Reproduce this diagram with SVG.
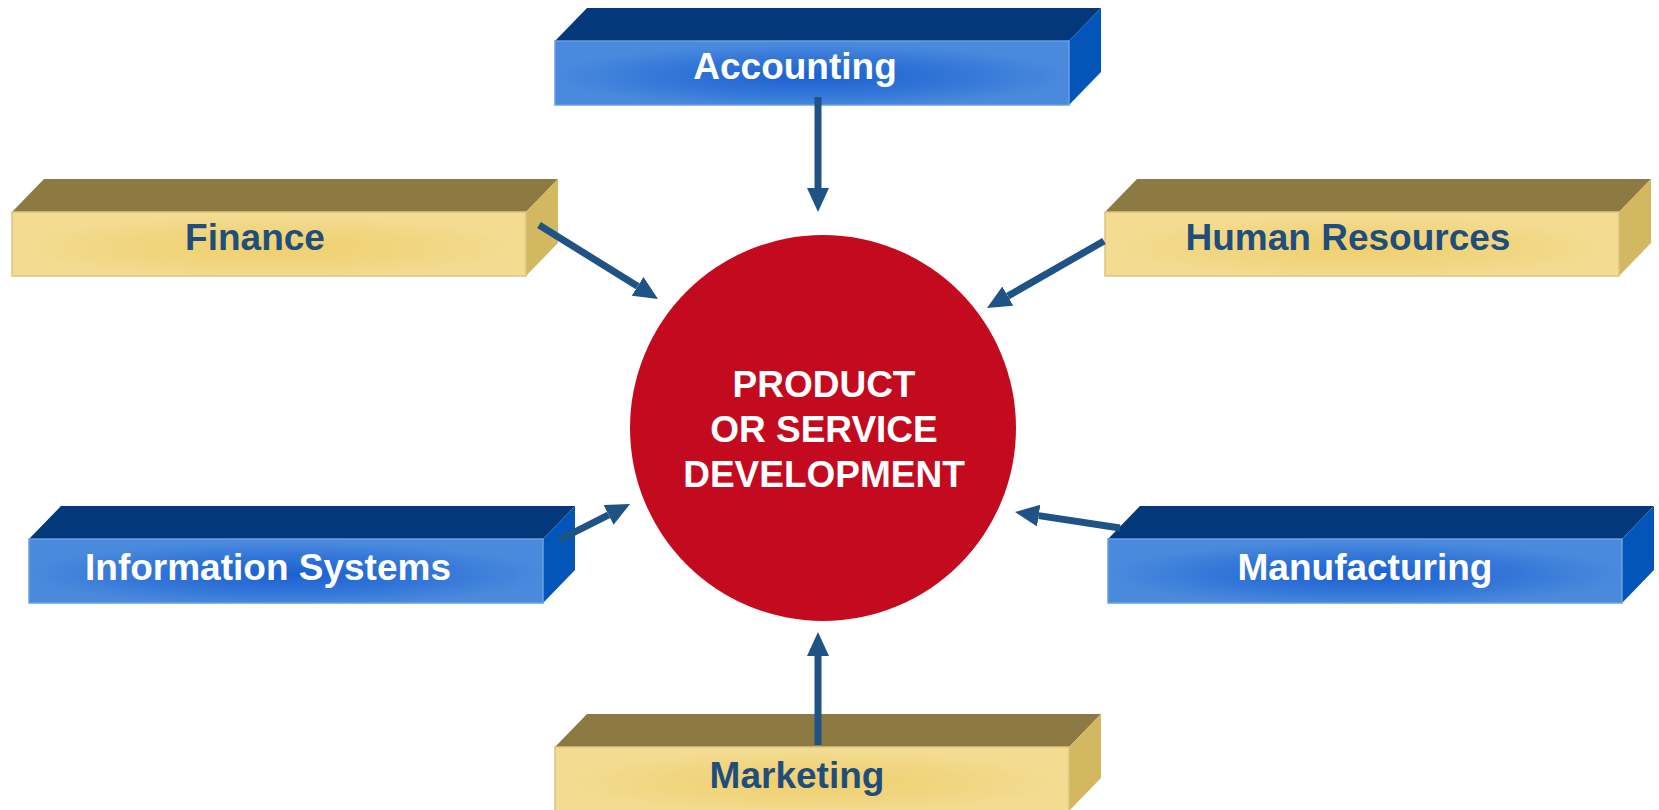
<svg xmlns="http://www.w3.org/2000/svg" width="1659" height="810" viewBox="0 0 1659 810">
  <style>
    .gold-top { fill: #8C7A42; }
    .gold-side { fill: #D3B862; }
    .gold-front { fill: url(#goldFace); stroke: #DCC57E; stroke-width: 1.5; }
    .blue-top { fill: #03397B; }
    .blue-side { fill: #0455B9; }
    .blue-front { fill: url(#blueFace); stroke: #6A9FE2; stroke-width: 1.5; }
    .label { font-family: "Liberation Sans", Arial, sans-serif; font-weight: bold; font-size: 37px; text-anchor: middle; }
    .label-dark { fill: #1F4E7C; }
    .label-light { fill: #FFFFFF; }
    .core-text { font-family: "Liberation Sans", Arial, sans-serif; font-weight: bold; font-size: 37px; text-anchor: middle; fill: #FFFFFF; }
    .flow { stroke: #1F5385; stroke-width: 7; fill: none; marker-end: url(#head); }
  </style>
  <defs>
    <radialGradient id="goldFace" cx="0.5" cy="0.55" r="0.5">
      <stop offset="0" stop-color="#F0CF6C"/>
      <stop offset="0.6" stop-color="#F1D682"/>
      <stop offset="1" stop-color="#F3DC92"/>
    </radialGradient>
    <radialGradient id="blueFace" cx="0.5" cy="0.55" r="0.5">
      <stop offset="0" stop-color="#1A60D2"/>
      <stop offset="0.6" stop-color="#3577D8"/>
      <stop offset="1" stop-color="#4A8ADD"/>
    </radialGradient>
    <marker id="head" markerUnits="userSpaceOnUse" markerWidth="26" markerHeight="24" refX="0" refY="11" orient="auto">
      <path d="M0,0 L24,11 L0,22 Z" fill="#1F5385"/>
    </marker>
    <!-- 3D bar: top face, right side, front face (origin = front-left x, back-top y) -->
    <g id="goldBar">
      <polygon class="gold-top" points="0,33 32,0 546,0 514,33"/>
      <polygon class="gold-side" points="514,33 546,0 546,64 514,97"/>
      <rect class="gold-front" x="0" y="33" width="514" height="64"/>
    </g>
    <g id="blueBar">
      <polygon class="blue-top" points="0,33 32,0 546,0 514,33"/>
      <polygon class="blue-side" points="514,33 546,0 546,64 514,97"/>
      <rect class="blue-front" x="0" y="33" width="514" height="64"/>
    </g>
  </defs>

  <rect width="1659" height="810" fill="#FFFFFF"/>

  <g id="core">
    <circle cx="823" cy="428" r="193" fill="#C40A1E"/>
    <text class="core-text" x="824" y="397">PRODUCT</text>
    <text class="core-text" x="824" y="442">OR SERVICE</text>
    <text class="core-text" x="824" y="487">DEVELOPMENT</text>
  </g>

  <g id="accounting">
    <use href="#blueBar" transform="translate(555,8)"/>
    <text class="label label-light" x="795" y="79">Accounting</text>
  </g>

  <g id="finance">
    <use href="#goldBar" transform="translate(12,179)"/>
    <text class="label label-dark" x="255" y="250">Finance</text>
  </g>

  <g id="human-resources">
    <use href="#goldBar" transform="translate(1105,179)"/>
    <text class="label label-dark" x="1348" y="250">Human Resources</text>
  </g>

  <g id="information-systems">
    <use href="#blueBar" transform="translate(29,506)"/>
    <text class="label label-light" x="268" y="580">Information Systems</text>
  </g>

  <g id="manufacturing">
    <use href="#blueBar" transform="translate(1108,506)"/>
    <text class="label label-light" x="1365" y="580">Manufacturing</text>
  </g>

  <g id="marketing">
    <use href="#goldBar" transform="translate(555,714)"/>
    <text class="label label-dark" x="797" y="788">Marketing</text>
  </g>

  <g id="connectors">
    <line class="flow" x1="818" y1="97" x2="818" y2="188"/>
    <line class="flow" x1="539" y1="225" x2="637.6" y2="286.3"/>
    <line class="flow" x1="1104" y1="241" x2="1007.8" y2="296.1"/>
    <line class="flow" x1="559" y1="540" x2="608.6" y2="514.9"/>
    <line class="flow" x1="1120" y1="528" x2="1038.7" y2="515.6"/>
    <line class="flow" x1="818" y1="745" x2="818" y2="656"/>
  </g>
</svg>
